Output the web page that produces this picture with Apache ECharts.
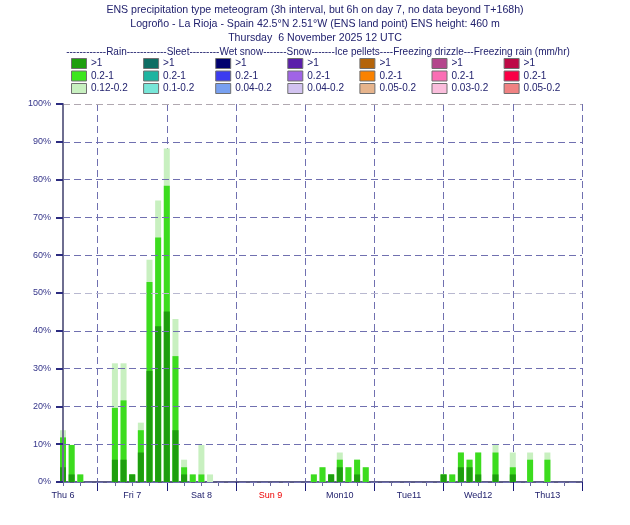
<!DOCTYPE html>
<html>
<head>
<meta charset="utf-8">
<script src="https://cdn.jsdelivr.net/npm/echarts@6/dist/echarts.min.js"></script>
<style>
  html, body { margin: 0; padding: 0; background: #fff; }
  #main { width: 630px; height: 525px; }
</style>
</head>
<body>
<div id="main"></div>
<script>
// forecast step (hours after Thu 6 Nov 12 UTC) of each bar
var hours = [0, 3, 6, 18, 21, 24, 27, 30, 33, 36, 39, 42, 45, 48, 51,
  87, 90, 93, 96, 99, 102, 105, 132, 135, 138, 141, 144, 150, 156, 162, 168];
// probability (%) of rain >= 0.12 mm/hr
var rainAbove012 = [13.7, 9.8, 2.0, 31.4, 31.4, 2.0, 15.7, 58.8, 74.5, 88.2, 43.1, 5.9, 2.0, 9.8, 2.0,
  2.0, 3.9, 2.0, 7.8, 3.9, 5.9, 3.9, 2.0, 2.0, 7.8, 5.9, 7.8, 9.8, 7.8, 7.8, 7.8];
// probability (%) of rain >= 0.2 mm/hr
var rainAbove02 = [11.8, 9.8, 2.0, 19.6, 21.6, 2.0, 13.7, 52.9, 64.7, 78.4, 33.3, 3.9, 2.0, 2.0, 0,
  2.0, 3.9, 2.0, 5.9, 3.9, 5.9, 3.9, 2.0, 2.0, 7.8, 5.9, 7.8, 7.8, 3.9, 5.9, 5.9];
// probability (%) of rain > 1 mm/hr
var rainAbove1 = [3.9, 2.0, 0, 5.9, 5.9, 2.0, 7.8, 29.4, 41.2, 45.1, 13.7, 2.0, 0, 0, 0,
  0, 0, 2.0, 3.9, 0, 2.0, 0, 2.0, 0, 3.9, 3.9, 2.0, 2.0, 2.0, 0, 0];

var dayLabels = ["Thu 6", "Fri 7", "Sat 8", "Sun 9", "Mon10", "Tue11", "Wed12", "Thu13"];
var sundayIndex = 3;

var legendHeader = "------------Rain------------Sleet---------Wet snow-------Snow-------Ice pellets----Freezing drizzle---Freezing rain (mm/hr)";
var legendColors = [
  ["#1e9e0e", "#3ce61e", "#c8f0c0"],
  ["#0e6e64", "#1eb4a0", "#78e6d8"],
  ["#00006e", "#3c3cf0", "#78a0f0"],
  ["#5a1eaa", "#a064e6", "#d2c3f0"],
  ["#b4640a", "#fa8200", "#e6b48c"],
  ["#b4468c", "#fa6eb4", "#fabedc"],
  ["#be0a46", "#fa0046", "#f08282"]
];
var legendRanges = [
  [">1", "0.2-1", "0.12-0.2"],
  [">1", "0.2-1", "0.1-0.2"],
  [">1", "0.2-1", "0.04-0.2"],
  [">1", "0.2-1", "0.04-0.2"],
  [">1", "0.2-1", "0.05-0.2"],
  [">1", "0.2-1", "0.03-0.2"],
  [">1", "0.2-1", "0.05-0.2"]
];

var navy = "#22226e";
var gridColor = "#7070b0";
var font = "'Liberation Sans', Arial, sans-serif";

// legend boxes
var legendItems = [];
for (var c = 0; c < legendColors.length; c++) {
  for (var r = 0; r < 3; r++) {
    var x0 = 71 + c * 72.1;
    var y0 = 58 + r * 12.5;
    legendItems.push({
      type: "rect",
      shape: { x: x0 + 0.5, y: y0 + 0.5, width: 15, height: 10 },
      style: { fill: legendColors[c][r], stroke: "#707070", lineWidth: 1 }
    });
    legendItems.push({
      type: "text",
      x: x0 + 20,
      y: y0 + 5.5,
      style: {
        text: legendRanges[c][r],
        fill: navy,
        font: "10px " + font,
        textVerticalAlign: "middle"
      }
    });
  }
}
legendItems.push({
  type: "text",
  x: 318,
  y: 52,
  style: {
    text: legendHeader,
    fill: navy,
    font: "10px " + font,
    textAlign: "center",
    textVerticalAlign: "middle"
  }
});

// 12-hour categories for the day-boundary lines
var halfDays = [];
for (var h = 0; h <= 180; h += 12) halfDays.push(String(h));

function pairs(values) {
  return hours.map(function (hr, i) { return [hr, values[i]]; });
}

var splitColors = [];
for (var k = 0; k <= 10; k++) {
  splitColors.push(k === 5 ? "#b8b8d0" : (k === 10 ? "#b0a8b0" : gridColor));
}

var titleStyle = { color: navy, fontSize: 10.6, fontWeight: "normal", fontFamily: "Liberation Sans" };

var chart = echarts.init(document.getElementById("main"));
var option = {
  backgroundColor: "#ffffff",
  animation: false,
  title: [
    {
      text: "ENS precipitation type meteogram (3h interval, but 6h on day 7, no data beyond T+168h)",
      left: "center", top: 0, textStyle: titleStyle
    },
    {
      text: "Logroño - La Rioja - Spain 42.5°N 2.51°W (ENS land point) ENS height: 460 m",
      left: "center", top: 14, textStyle: titleStyle
    },
    {
      text: "Thursday  6 November 2025 12 UTC",
      left: "center", top: 27.5, textStyle: titleStyle
    }
  ],
  graphic: legendItems,
  grid: { left: 63, right: 48, top: 104, bottom: 43 },
  xAxis: [
    {
      type: "value",
      min: 0,
      max: 180,
      interval: 6,
      axisLine: { show: true, lineStyle: { color: "#5c5c86", width: 2 } },
      axisTick: { show: true, length: 4, lineStyle: { color: "#6a6a9e", width: 1 } },
      axisLabel: {
        margin: 9,
        fontSize: 9,
        fontFamily: "Liberation Sans",
        color: navy,
        formatter: function (v) {
          if (v % 24 !== 0 || v >= 180) return "";
          var i = v / 24;
          return i === sundayIndex ? "{sun|" + dayLabels[i] + "}" : dayLabels[i];
        },
        rich: { sun: { color: "#ee0000", fontSize: 9, fontFamily: "Liberation Sans" } }
      },
      splitLine: { show: false }
    },
    {
      type: "category",
      data: halfDays,
      boundaryGap: false,
      position: "bottom",
      axisLine: { show: false },
      axisLabel: { show: false },
      axisTick: {
        show: true, length: 9,
        interval: function (i) { return i % 2 === 1; },
        lineStyle: { color: "#1c1c78", width: 1 }
      },
      splitLine: {
        show: true,
        interval: function (i) { return i % 2 === 1; },
        lineStyle: { color: gridColor, type: [7, 4], width: 1 }
      }
    }
  ],
  yAxis: {
    type: "value",
    min: 0,
    max: 100,
    interval: 10,
    z: 5,
    axisLine: { show: true, lineStyle: { color: "#6e6e90", width: 2 } },
    axisTick: { show: true, length: 7, lineStyle: { color: "#2c2c80", width: 2 } },
    axisLabel: {
      formatter: "{value}%",
      fontSize: 9,
      fontFamily: "Liberation Sans",
      color: "#35358a",
      margin: 12
    },
    splitLine: {
      show: true,
      lineStyle: { color: splitColors, type: [7, 4], width: 1 }
    }
  },
  series: [
    {
      name: "0.12-0.2", type: "bar", xAxisIndex: 0, barWidth: 6, barGap: "-100%", clip: false,
      itemStyle: { color: "#c8f0c0" }, data: pairs(rainAbove012)
    },
    {
      name: "0.2-1", type: "bar", xAxisIndex: 0, barWidth: 6, barGap: "-100%", clip: false,
      itemStyle: { color: "#3cdc1e" }, data: pairs(rainAbove02)
    },
    {
      name: ">1", type: "bar", xAxisIndex: 0, barWidth: 6, barGap: "-100%", clip: false,
      itemStyle: { color: "#1e9e0e" }, data: pairs(rainAbove1)
    }
  ]
};
chart.setOption(option);
</script>
</body>
</html>
